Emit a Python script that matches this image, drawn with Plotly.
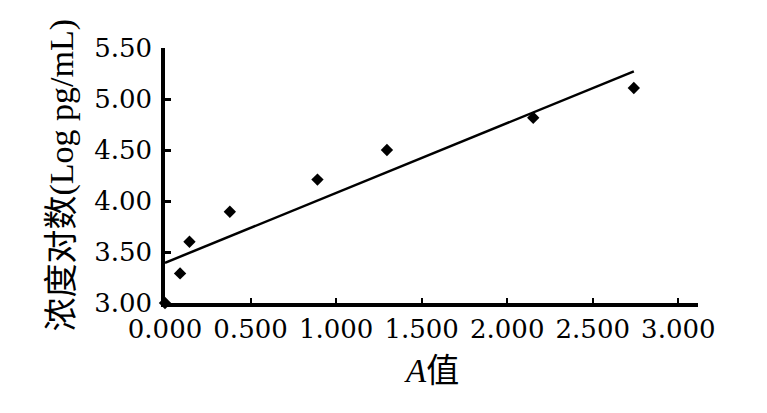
import numpy as np
import plotly.graph_objects as go

# Data
a_values = [0.000, 0.088, 0.143, 0.379, 0.891, 1.297, 2.152, 2.740]
log_conc = [3.000, 3.290, 3.600, 3.895, 4.210, 4.500, 4.816, 5.108]

x_ticks = [0.0, 0.5, 1.0, 1.5, 2.0, 2.5, 3.0]
y_ticks = [3.0, 3.5, 4.0, 4.5, 5.0, 5.5]

x_title = "<i>A</i>值"
y_title = "浓度对数(Log pg/mL)"

# linear trendline (least squares, like a spreadsheet trendline)
slope, intercept = np.polyfit(a_values, log_conc, 1)
trend_x = [min(a_values), max(a_values)]
trend_y = [slope * v + intercept for v in trend_x]

TITLE_FONT = "Liberation Serif, Times New Roman, Noto Sans CJK SC, serif"
TICK_FONT = "DejaVu Serif, Liberation Serif, serif"

fig = go.Figure()
fig.add_trace(go.Scatter(
    x=trend_x, y=trend_y, mode="lines",
    line=dict(color="black", width=2.5), hoverinfo="skip", cliponaxis=False,
))
fig.add_trace(go.Scatter(
    x=a_values, y=log_conc, mode="markers",
    marker=dict(symbol="diamond", size=9.5, color="black"),
    cliponaxis=False,
))

fig.update_layout(
    width=767, height=413,
    margin=dict(l=157, r=77, t=40, b=118),
    paper_bgcolor="white", plot_bgcolor="white",
    showlegend=False,
    font=dict(family=TITLE_FONT, color="black", size=26),
    xaxis=dict(
        range=[0, 3.115], tickvals=x_ticks, tickformat=".3f",
        showgrid=False, zeroline=False,
        showline=True, linecolor="black", linewidth=3.5,
        ticks="inside", ticklen=5, tickwidth=2, tickcolor="black",
        tickfont=dict(size=26, family=TICK_FONT),
        ticklabelstandoff=0,
    ),
    yaxis=dict(
        range=[3.0, 5.5], tickvals=y_ticks, tickformat=".2f",
        showgrid=False, zeroline=False,
        showline=True, linecolor="black", linewidth=3.5,
        ticks="inside", ticklen=6, tickwidth=3, tickcolor="black",
        tickfont=dict(size=26, family=TICK_FONT),
        ticklabelstandoff=4,
    ),
    annotations=[
        dict(text=x_title, xref="paper", yref="paper", x=0.5, y=0,
             xanchor="center", yanchor="middle", yshift=-68,
             showarrow=False, font=dict(size=33, family=TITLE_FONT)),
        dict(text=y_title, xref="paper", yref="paper", x=0, y=0.5,
             xanchor="center", yanchor="middle", xshift=-104,
             textangle=-90, showarrow=False, font=dict(size=34, family=TITLE_FONT)),
    ],
)

fig.write_html("out.html")
